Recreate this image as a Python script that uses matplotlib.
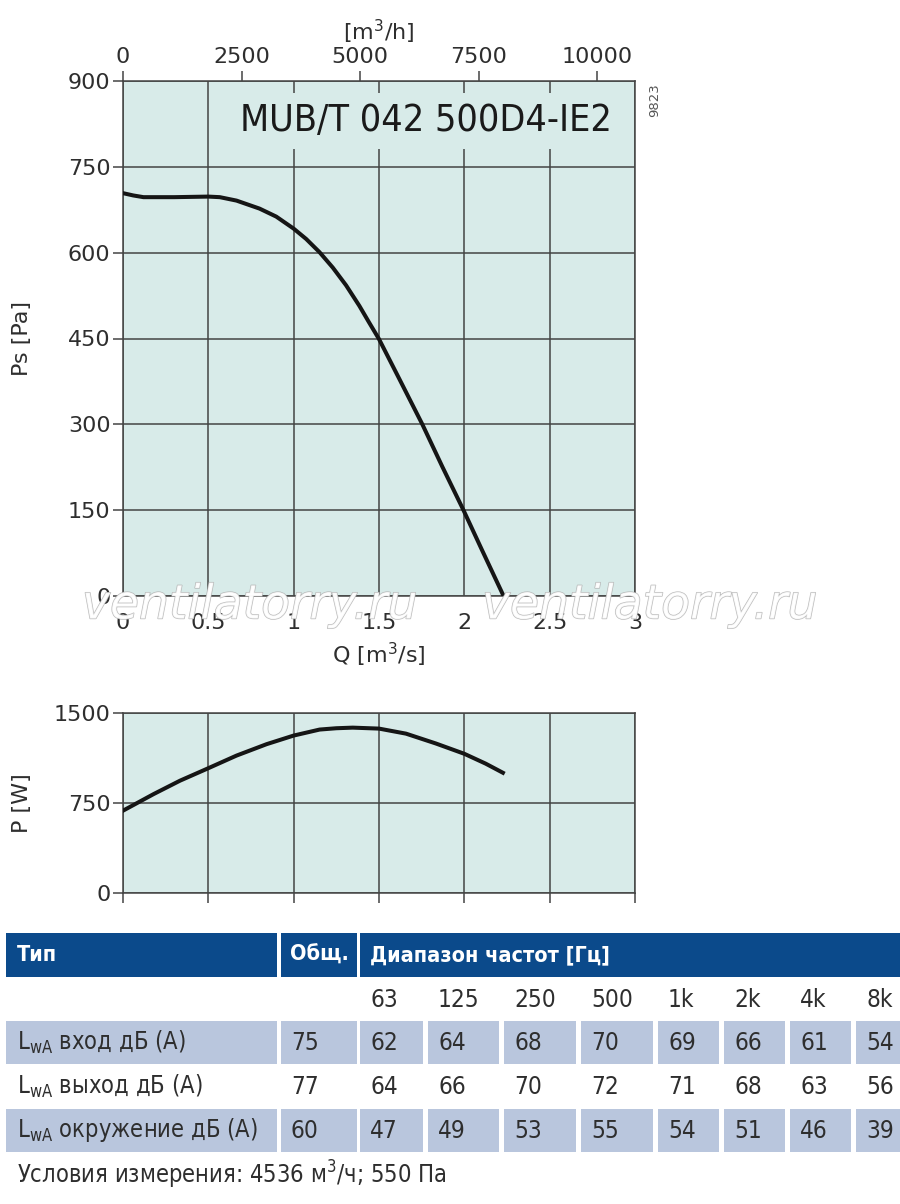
import matplotlib
matplotlib.use('Agg')
import matplotlib.pyplot as plt
import matplotlib.patheffects as pe
from matplotlib import font_manager
from matplotlib.font_manager import FontProperties
from matplotlib.patches import Rectangle

# fan curve: static pressure vs flow
q_ps = [0, 0.06, 0.12, 0.3, 0.5, 0.567, 0.665, 0.8, 0.898, 1.0, 1.073, 1.151, 1.229,
        1.307, 1.385, 1.44, 1.5, 1.618, 1.754, 1.871, 1.995, 2.104, 2.23]
ps = [704, 700, 697, 697, 698, 697, 691, 677, 663, 642, 624, 601, 574,
      543, 507, 479, 449, 380, 300, 226, 150, 80, 0]

# absorbed power vs flow
q_pw = [0, 0.179, 0.334, 0.5, 0.665, 0.841, 1.0, 1.152, 1.25, 1.346, 1.5, 1.658, 1.833, 2.0, 2.125, 2.226]
pw = [686, 824, 936, 1040, 1145, 1240, 1312, 1362, 1373, 1378, 1370, 1328, 1246, 1160, 1078, 1002]

q_ticks = [0, 0.5, 1, 1.5, 2, 2.5, 3]
q_ticklabels = ['0', '0.5', '1', '1.5', '2', '2.5', '3']
m3h_ticks = [0, 2500, 5000, 7500, 10000]
ps_ticks = [0, 150, 300, 450, 600, 750, 900]
pw_ticks = [0, 750, 1500]

model = 'MUB/T 042 500D4-IE2'

# sound table
freq_bands = ['63', '125', '250', '500', '1k', '2k', '4k', '8k']
row_names = ['вход дБ (А)', 'выход дБ (А)', 'окружение дБ (А)']
lwa_total = [75, 77, 60]
lwa_inlet = [62, 64, 68, 70, 69, 66, 61, 54]
lwa_outlet = [64, 66, 70, 72, 71, 68, 63, 56]
lwa_surround = [47, 49, 53, 55, 54, 51, 46, 39]
footnote = 'Условия измерения: 4536 м$^3$/ч; 550 Па'

W, H = 900, 1204
BG = '#d8ebe9'
GRID = '#444444'
TXT = '#2e2e2e'
BLUE = '#0b4a8b'
BAND = '#b9c6dd'


def fx(x):
    return x / W


def fy(y):
    return 1 - y / H


def px_rect(left, top, right, bottom):
    return [fx(left), fy(bottom), (right - left) / W, (bottom - top) / H]


def pick_condensed(weight):
    '''find a condensed/narrow font file, None if there is none'''
    prefs = ['DejaVu Sans', 'Liberation Sans Narrow', 'Noto Sans', 'Open Sans', 'Roboto']
    found = []
    for f in font_manager.fontManager.ttflist:
        tag = (f.name + ' ' + f.fname).lower()
        cond = f.stretch in ('condensed', 'semi-condensed', 'extra-condensed') \
            or 'condensed' in tag or 'narrow' in tag
        if not cond or f.style != 'normal':
            continue
        w = f.weight if isinstance(f.weight, int) else font_manager.weight_dict.get(f.weight, 400)
        rank = prefs.index(f.name) if f.name in prefs else len(prefs)
        found.append((abs(w - weight), rank, f.fname))
    if not found:
        return None
    found.sort()
    return found[0][2]


cond_reg = pick_condensed(400)
cond_bold = pick_condensed(700)


def cfont(size, bold=False):
    path = cond_bold if bold else cond_reg
    if path is None:
        # no narrow font, shrink DejaVu a bit instead
        return FontProperties(family='DejaVu Sans', size=size * 0.86,
                              weight='bold' if bold else 'normal')
    return FontProperties(fname=path, size=size)


plt.rcParams['font.family'] = ['DejaVu Sans']
plt.rcParams['mathtext.default'] = 'regular'

fig = plt.figure(figsize=(W / 100, H / 100), dpi=100)


def style_axes(ax, yticks):
    ax.set_facecolor(BG)
    ax.set_xlim(0, 3)
    ax.set_ylim(yticks[0], yticks[-1])
    ax.set_xticks(q_ticks)
    ax.set_yticks(yticks)
    ax.grid(True, color=GRID, linewidth=1.1)
    ax.set_axisbelow(True)
    for s in ax.spines.values():
        s.set_color(GRID)
        s.set_linewidth(1.1)
    ax.tick_params(axis='y', direction='out', length=7, width=1.1, color=GRID,
                   labelsize=16, labelcolor=TXT, pad=2)


# --- pressure chart
ax1 = fig.add_axes(px_rect(123, 81, 635, 596))
style_axes(ax1, ps_ticks)
ax1.plot(q_ps, ps, color='#151515', linewidth=2.9, solid_joinstyle='round', zorder=3)
ax1.set_xticklabels(q_ticklabels)
ax1.tick_params(axis='x', length=0, labelsize=16, labelcolor=TXT, pad=12)
ax1.set_xlabel('Q [m$^3$/s]', fontsize=16, color=TXT, labelpad=6)
ax1.set_ylabel('Ps [Pa]', fontsize=16, color=TXT)
ax1.yaxis.set_label_coords((32 - 123) / 512, 0.5)

top = ax1.secondary_xaxis('top', functions=(lambda q: q * 3600, lambda v: v / 3600))
top.set_xticks(m3h_ticks)
top.tick_params(direction='out', length=7, width=1.1, color=GRID,
                labelsize=16, labelcolor=TXT, pad=3)
top.spines['top'].set_visible(False)
top.set_xlabel('[m$^3$/h]', fontsize=16, color=TXT, labelpad=5)

ax1.text((612 - 123) / 512, (596 - 121) / 515, model, transform=ax1.transAxes,
         ha='right', va='center', fontproperties=cfont(27), color='#1a1a1a', zorder=5,
         bbox=dict(facecolor=BG, edgecolor='none', pad=7))

fig.text(fx(655), fy(100), '9823', rotation=90, ha='center', va='center',
         fontsize=9.5, color='#555555')

# watermark
for x0 in (82, 482):
    fig.text(fx(x0), fy(606), 'ventilatorry.ru', ha='left', va='center',
             fontsize=34, style='italic', color='white', alpha=0.85,
             path_effects=[pe.Stroke(linewidth=1.0, foreground='#b0b0b0'), pe.Normal()])

# --- power chart
ax2 = fig.add_axes(px_rect(123, 713, 635, 893))
style_axes(ax2, pw_ticks)
ax2.plot(q_pw, pw, color='#151515', linewidth=2.9, solid_joinstyle='round', zorder=3)
ax2.tick_params(axis='x', direction='out', length=7, width=1.1, color=GRID, labelbottom=False)
ax2.set_ylabel('P [W]', fontsize=16, color=TXT)
ax2.yaxis.set_label_coords((32 - 123) / 512, 0.5)

# --- sound table
band_cols = [(360, 423), (428, 499), (504, 576), (581, 653), (658, 719), (724, 785), (790, 851), (856, 900)]
label_col = (6, 277)
total_col = (281, 357)

hdr_top, hdr_bot = 933, 977
for (l, r) in [label_col, total_col, (360, 900)]:
    fig.add_artist(Rectangle((fx(l), fy(hdr_bot)), (r - l) / W, (hdr_bot - hdr_top) / H,
                             transform=fig.transFigure, facecolor=BLUE, edgecolor='none'))
hdr_y = (hdr_top + hdr_bot) / 2
for x0, s in [(17, 'Тип'), (290, 'Общ.'), (370, 'Диапазон частот [Гц]')]:
    fig.text(fx(x0), fy(hdr_y), s, ha='left', va='center',
             fontproperties=cfont(15.5, bold=True), color='white')

for (l, r), b in zip(band_cols, freq_bands):
    fig.text(fx(l + 10), fy(1000), b, ha='left', va='center',
             fontproperties=cfont(17.5), color=TXT)

row_bounds = [(1021, 1064), (1065, 1108), (1109, 1152)]
row_vals = [lwa_inlet, lwa_outlet, lwa_surround]
for i, ((t, b), name, tot, vals) in enumerate(zip(row_bounds, row_names, lwa_total, row_vals)):
    if i != 1:
        for (l, r) in [label_col, total_col] + band_cols:
            fig.add_artist(Rectangle((fx(l), fy(b)), (r - l) / W, (b - t) / H,
                                     transform=fig.transFigure, facecolor=BAND,
                                     edgecolor='none'))
    yc = (t + b) / 2
    fig.text(fx(17), fy(yc), 'L$_{\\mathregular{wA}}$ ' + name, ha='left', va='center',
             fontproperties=cfont(17), color=TXT)
    fig.text(fx(total_col[0] + 10), fy(yc), str(tot), ha='left', va='center',
             fontproperties=cfont(17.5), color=TXT)
    for (l, r), v in zip(band_cols, vals):
        fig.text(fx(l + 10), fy(yc), str(v), ha='left', va='center',
                 fontproperties=cfont(17.5), color=TXT)

fig.text(fx(17), fy(1175), footnote, ha='left', va='center',
         fontproperties=cfont(17), color=TXT)

fig.savefig('out.png', dpi=100)
